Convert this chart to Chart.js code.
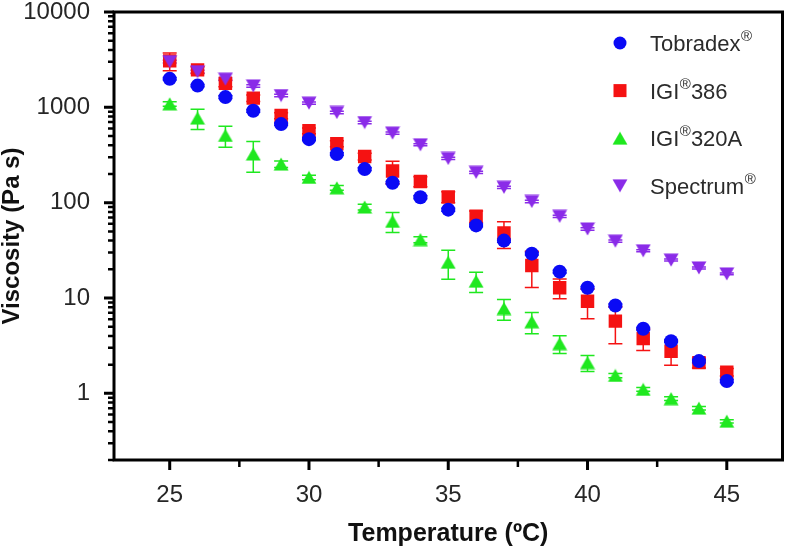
<!DOCTYPE html>
<html>
<head>
<meta charset="utf-8">
<script src="https://cdn.jsdelivr.net/npm/chart.js@4.4.1/dist/chart.umd.min.js"></script>
<style>
  html, body { margin: 0; padding: 0; background: #fff; }
  #wrap { width: 792px; height: 552px; }
</style>
</head>
<body>
<div id="wrap"><canvas id="viscChart" width="792" height="552"></canvas></div>
<script>
// temperature (ºC)
const temps = [25, 26, 27, 28, 29, 30, 31, 32, 33, 34, 35, 36, 37, 38, 39, 40, 41, 42, 43, 44, 45];

// viscosity (Pa s), with the SD whiskers
const tobradex   = [1990, 1690, 1280, 920, 667, 464, 324, 225, 162, 114, 84.5, 57.8, 40, 29.2, 18.9, 12.8, 8.35, 4.76, 3.53, 2.18, 1.35];
const tobradexSd = [60, 50, 40, 30, 20, 15, 10, 8, 5, 4, 3, 2, 1.5, 1, 0.6, 0.4, 0.3, 0.15, 0.1, 0.08, 0.05];
const igi386     = [3070, 2470, 1790, 1250, 820, 567, 415, 305, 215, 167, 115, 72, 48, 21.9, 12.8, 9.26, 5.72, 3.77, 2.77, 2.10, 1.67];
const igi386Sd   = [650, 200, 150, 100, 60, 40, 30, 25, 57, 20, 15, 10, 15, 9, 3, 3.2, 2.4, 0.95, 0.8, 0.25, 0.15];
const igi320a    = [1088, 771, 507, 324, 254, 184, 143, 90, 63.7, 41, 23.7, 15, 7.76, 5.63, 3.32, 2.10, 1.54, 1.10, 0.88, 0.70, 0.51];
const igi320aSd  = [60, 185, 125, 115, 20, 10, 8, 6, 15, 3, 8, 3.6, 1.9, 1.4, 0.7, 0.4, 0.08, 0.05, 0.04, 0.03, 0.02];
const spectrum   = [3018, 2371, 1974, 1679, 1330, 1107, 883, 693, 537, 405, 291, 208, 145, 103, 71.9, 53, 39.5, 31.3, 25, 20.7, 17.9];
const spectrumSd = [100, 80, 60, 50, 40, 30, 25, 20, 15, 10, 8, 6, 4, 3, 2, 1.5, 1, 0.8, 0.6, 0.5, 0.4];

const seriesNames = ['Tobradex®', 'IGI®386', 'IGI®320A', 'Spectrum®'];

const xTicks = [25, 30, 35, 40, 45];
const xMinorTicks = [27.5, 32.5, 37.5, 42.5];
const yTicks = [1, 10, 100, 1000, 10000];

const FONT = '"Liberation Sans", Arial, Helvetica, sans-serif';
const BLUE = '#0a0af5', RED = '#f51212', GREEN = '#1fe81f', PURPLE = '#8a2be8';

function triangleImage(color, down) {
  const c = document.createElement('canvas');
  c.width = 16; c.height = 14;
  const g = c.getContext('2d');
  g.fillStyle = color;
  g.beginPath();
  if (down) {
    g.moveTo(0.5, 0.5); g.lineTo(15.5, 0.5); g.lineTo(8, 13.5);
  } else {
    g.moveTo(8, 0.5); g.lineTo(15.5, 13.5); g.lineTo(0.5, 13.5);
  }
  g.closePath();
  g.fill();
  return c;
}

const toPoints = (vals) => vals.map((v, i) => ({ x: temps[i], y: v }));

// whiskers behind the markers
const errorBars = {
  id: 'errorBars',
  beforeDatasetsDraw(chart) {
    const ctx = chart.ctx;
    const xs = chart.scales.x, ys = chart.scales.y;
    chart.data.datasets.forEach((ds) => {
      if (!ds.sd) return;
      ctx.save();
      ctx.strokeStyle = ds.backgroundColor;
      ctx.lineWidth = 1.5;
      ds.data.forEach((p, i) => {
        const sd = ds.sd[i];
        const x = xs.getPixelForValue(p.x);
        const yTop = ys.getPixelForValue(p.y + sd);
        const yBot = ys.getPixelForValue(Math.max(p.y - sd, 0.2));
        ctx.beginPath();
        ctx.moveTo(x, yTop); ctx.lineTo(x, yBot);
        ctx.moveTo(x - 7, yTop); ctx.lineTo(x + 7, yTop);
        ctx.moveTo(x - 7, yBot); ctx.lineTo(x + 7, yBot);
        ctx.stroke();
      });
      ctx.restore();
    });
  }
};

// box frame and outward ticks
const frame = {
  id: 'frame',
  afterDatasetsDraw(chart) {
    const ctx = chart.ctx;
    const a = chart.chartArea;
    const xs = chart.scales.x, ys = chart.scales.y;
    ctx.save();
    ctx.strokeStyle = '#000';
    ctx.lineWidth = 3;
    ctx.strokeRect(a.left, a.top, a.right - a.left, a.bottom - a.top);

    ctx.lineWidth = 3;
    ctx.beginPath();
    xTicks.forEach((v) => {
      const x = xs.getPixelForValue(v);
      ctx.moveTo(x, a.bottom); ctx.lineTo(x, a.bottom + 10);
    });
    yTicks.forEach((v) => {
      const y = ys.getPixelForValue(v);
      ctx.moveTo(a.left, y); ctx.lineTo(a.left - 10, y);
    });
    ctx.stroke();

    ctx.lineWidth = 2.5;
    ctx.beginPath();
    xMinorTicks.forEach((v) => {
      const x = xs.getPixelForValue(v);
      ctx.moveTo(x, a.bottom); ctx.lineTo(x, a.bottom + 7);
    });
    for (let d = 0.1; d < 10000; d *= 10) {
      for (let k = 2; k <= 9; k++) {
        const v = k * d;
        if (v < ys.min || v > ys.max) continue;
        const y = ys.getPixelForValue(v);
        ctx.moveTo(a.left, y); ctx.lineTo(a.left - 6, y);
      }
    }
    ctx.stroke();
    ctx.restore();
  }
};

// legend inside the plot, ® set as superscript
const legendBox = {
  id: 'legendBox',
  afterDraw(chart) {
    const ctx = chart.ctx;
    const markX = 620, textX = 650, firstY = 43, gap = 47.6;
    ctx.save();
    chart.data.datasets.forEach((ds, i) => {
      const y = firstY + i * gap;
      ctx.fillStyle = ds.backgroundColor;
      if (ds.pointStyle === 'circle') {
        ctx.beginPath(); ctx.arc(markX, y, 6.5, 0, Math.PI * 2); ctx.fill();
      } else if (ds.pointStyle === 'rect') {
        ctx.fillRect(markX - 6.5, y - 6.5, 13, 13);
      } else {
        ctx.drawImage(ds.pointStyle, markX - 8, y - 7);
      }
      const parts = ds.label.split('®');
      let x = textX;
      ctx.fillStyle = '#2b2b2b';
      ctx.textBaseline = 'middle';
      parts.forEach((t, j) => {
        ctx.font = '22px ' + FONT;
        ctx.fillText(t, x, y + 2);
        x += ctx.measureText(t).width;
        if (j < parts.length - 1) {
          ctx.font = '15px ' + FONT;
          ctx.fillText('®', x + 0.5, y - 6);
          x += ctx.measureText('®').width + 0.5;
        }
      });
    });
    ctx.restore();
  }
};

new Chart(document.getElementById('viscChart'), {
  type: 'scatter',
  data: {
    datasets: [
      { label: seriesNames[0], data: toPoints(tobradex), sd: tobradexSd, backgroundColor: BLUE, borderColor: BLUE,
        pointStyle: 'circle', pointRadius: 7, borderWidth: 0, order: 1 },
      { label: seriesNames[1], data: toPoints(igi386), sd: igi386Sd, backgroundColor: RED, borderColor: RED,
        pointStyle: 'rect', pointRadius: 9.5, borderWidth: 0, order: 3 },
      { label: seriesNames[2], data: toPoints(igi320a), sd: igi320aSd, backgroundColor: GREEN, borderColor: GREEN,
        pointStyle: triangleImage(GREEN, false), pointRadius: 8, borderWidth: 0, order: 2 },
      { label: seriesNames[3], data: toPoints(spectrum), sd: spectrumSd, backgroundColor: PURPLE, borderColor: PURPLE,
        pointStyle: triangleImage(PURPLE, true), pointRadius: 8, borderWidth: 0, order: 0 }
    ]
  },
  options: {
    responsive: false,
    animation: false,
    devicePixelRatio: 1,
    layout: { padding: { top: 12, right: 6.5, left: 0, bottom: 0 } },
    plugins: {
      legend: { display: false },
      tooltip: { enabled: false }
    },
    scales: {
      x: {
        type: 'linear',
        min: 23,
        max: 47,
        grid: { display: false },
        border: { display: false },
        afterBuildTicks: (scale) => { scale.ticks = xTicks.map((v) => ({ value: v })); },
        afterFit: (scale) => { scale.height = 92; scale.paddingLeft = 0; scale.paddingRight = 0; },
        ticks: {
          color: '#262626',
          padding: 13,
          font: { family: FONT, size: 24 },
          callback: (v) => String(v)
        },
        title: {
          display: true,
          text: 'Temperature (ºC)',
          color: '#111',
          padding: { top: 0, bottom: 5 },
          font: { family: FONT, size: 25, weight: 'bold', lineHeight: 1 }
        }
      },
      y: {
        type: 'logarithmic',
        min: 0.2,
        max: 10000,
        grid: { display: false },
        border: { display: false },
        afterBuildTicks: (scale) => { scale.ticks = yTicks.map((v) => ({ value: v })); },
        afterFit: (scale) => { scale.width = 114; scale.paddingTop = 0; scale.paddingBottom = 0; },
        ticks: {
          color: '#262626',
          padding: 16,
          font: { family: FONT, size: 24, lineHeight: 1 },
          callback: (v) => String(v)
        },
        title: {
          display: true,
          text: 'Viscosity (Pa s)',
          color: '#111',
          padding: { top: 0, bottom: 0 },
          font: { family: FONT, size: 24, weight: 'bold', lineHeight: 1 }
        }
      }
    }
  },
  plugins: [errorBars, frame, legendBox]
});
</script>
</body>
</html>
